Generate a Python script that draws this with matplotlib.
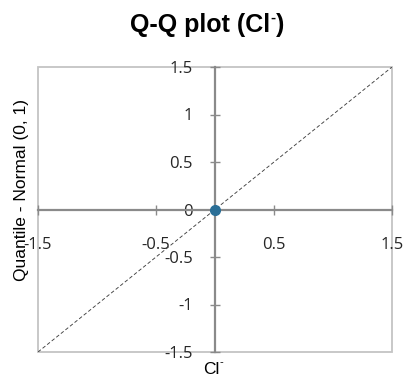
import matplotlib
matplotlib.use("Agg")
import matplotlib.pyplot as plt
from matplotlib.patches import Rectangle
from matplotlib.ticker import FixedLocator, FixedFormatter

# Q-Q data: observed (standardised) chloride vs. theoretical normal quantile
cl_values = [0.0]
normal_quantiles = [0.0]
reference_line = [-1.5, 1.5]

x_ticks = [-1.5, -0.5, 0.5, 1.5]
x_tick_labels = ["-1.5", "-0.5", "0.5", "1.5"]
y_ticks = [-1.5, -1.0, -0.5, 0.0, 0.5, 1.0, 1.5]
y_tick_labels = ["-1.5", "-1", "-0.5", "0", "0.5", "1", "1.5"]

W, H = 403, 379
fig = plt.figure(figsize=(W / 100, H / 100), dpi=100)
left, right, top, bottom = 38, 392, 67, 352
ax = fig.add_axes([left / W, 1 - bottom / H, (right - left) / W, (bottom - top) / H])
ax.set_xlim(-1.5, 1.5)
ax.set_ylim(-1.5, 1.5)

axis_grey = "#8a8a8a"
box_grey = "#c4c4c4"
tick_font = "Open Sans"
label_font = "Liberation Sans"

# axes crossing at the origin
for s in ("top", "right"):
    ax.spines[s].set_visible(False)
for s in ("left", "bottom"):
    ax.spines[s].set_position("zero")
    ax.spines[s].set_color(axis_grey)
    ax.spines[s].set_linewidth(1.6)
    ax.spines[s].set_zorder(2)

# plot-area border
ax.add_patch(Rectangle((0, 0), 1, 1, transform=ax.transAxes, fill=False,
                       edgecolor=box_grey, linewidth=1.3, zorder=1, clip_on=False))

ax.xaxis.set_major_locator(FixedLocator(x_ticks))
ax.xaxis.set_major_formatter(FixedFormatter(x_tick_labels))
ax.yaxis.set_major_locator(FixedLocator(y_ticks))
ax.yaxis.set_major_formatter(FixedFormatter(y_tick_labels))
ax.tick_params(axis="both", direction="inout", length=7, width=1.0, color=axis_grey,
               labelsize=12, labelcolor="#262626")
ax.tick_params(axis="x", pad=16.5)
ax.tick_params(axis="y", pad=12.5)
for lbl in ax.get_xticklabels() + ax.get_yticklabels():
    lbl.set_fontfamily(tick_font)

# reference diagonal and the sample point
ax.plot(reference_line, reference_line, color="#404040", linewidth=0.65,
        linestyle=(0, (4, 2.5)), zorder=3)
ax.plot(cl_values, normal_quantiles, linestyle="none", marker="o", markersize=7,
        color="#2a6e96", zorder=4, clip_on=False)

# title with superscript charge
t1 = fig.text(130 / W, 1 - 31.7 / H, "Q-Q plot (Cl", fontsize=18, fontweight="bold",
              family=label_font, ha="left", va="baseline")
sup = ax.annotate("-", xy=(1, 0), xycoords=t1, xytext=(0.5, 13.5),
                  textcoords="offset points", fontsize=11, fontweight="bold",
                  family=label_font, ha="left", va="center", annotation_clip=False)
ax.annotate(")", xy=(1, 0), xycoords=(sup, t1), xytext=(0.3, 0),
            textcoords="offset points", fontsize=18, fontweight="bold",
            family=label_font, ha="left", va="bottom", annotation_clip=False)

# axis titles
fig.text(22 / W, 1 - 190 / H, "Quantile - Normal (0, 1)", rotation=90, fontsize=12.5,
         family=label_font, ha="center", va="center")
x1 = fig.text(203 / W, 1 - 374 / H, "Cl", fontsize=12.5, family=label_font,
              ha="left", va="baseline")
ax.annotate("-", xy=(1, 0), xycoords=x1, xytext=(0.3, 11),
            textcoords="offset points", fontsize=8, family=label_font,
            ha="left", va="center", annotation_clip=False)

fig.savefig("out.png", dpi=100)
